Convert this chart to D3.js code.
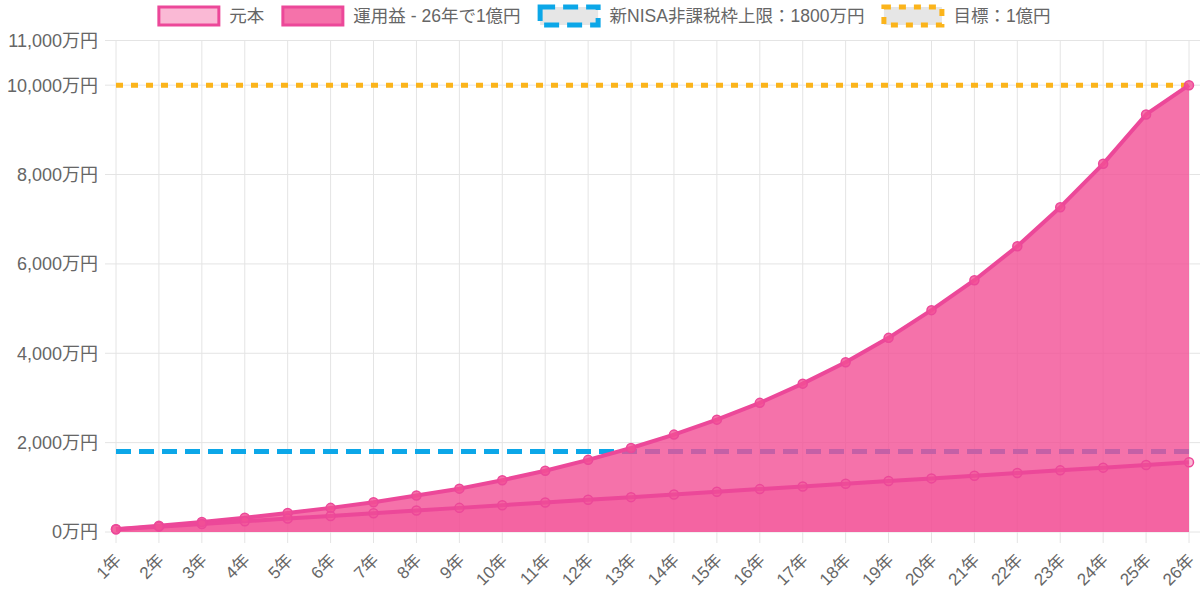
<!DOCTYPE html>
<html><head><meta charset="utf-8">
<script src="https://cdn.jsdelivr.net/npm/d3@7"></script>
<style>
html,body{margin:0;padding:0;background:#fff;}
svg{display:block;font-family:"Liberation Sans","Noto Sans CJK JP",sans-serif;}
</style></head>
<body>
<svg id="c" width="1200" height="601"></svg>
<script>
const years = ["1年","2年","3年","4年","5年","6年","7年","8年","9年","10年","11年","12年","13年","14年","15年","16年","17年","18年","19年","20年","21年","22年","23年","24年","25年","26年"];
const principal = [60,120,180,240,300,360,420,480,540,600,660,720,780,840,900,960,1020,1080,1140,1200,1260,1320,1380,1440,1500,1560];
const total = [60,140,225,320,425,540,665,815,970,1160,1370,1615,1880,2180,2515,2890,3320,3800,4345,4965,5635,6395,7270,8240,9345,10000];
const nisaLimit = 1800;
const goal = 10000;
const yTicks = [0,2000,4000,6000,8000,10000,11000];
const legendLabels = ["元本","運用益 - 26年で1億円","新NISA非課税枠上限：1800万円","目標：1億円"];

const svg = d3.select("#c");
const x = d3.scalePoint().domain(years).range([116,1189]);
const y = d3.scaleLinear().domain([0,11000]).range([532,40.5]);

const pinkLine = "#ec4899";
const pinkFillTop = "rgba(242,79,149,0.8)";
const pinkFillLow = "rgba(242,79,149,0.4)";
const blue = "#0ca7e8";
const orange = "#fbb41b";
const grid = "#e4e4e4";
const fmt = d3.format(",");

// grid
const g = svg.append("g");
g.selectAll("line.h").data(yTicks).join("line")
  .attr("x1",105).attr("x2",1200).attr("y1",d=>y(d)).attr("y2",d=>y(d))
  .attr("stroke",grid).attr("stroke-width",1);
g.selectAll("line.v").data(years).join("line")
  .attr("x1",d=>x(d)).attr("x2",d=>x(d)).attr("y1",y(11000)).attr("y2",543)
  .attr("stroke",grid).attr("stroke-width",1);

// y labels
svg.append("g").selectAll("text").data(yTicks).join("text")
  .attr("x",98).attr("y",d=>y(d)).attr("dy","0.36em")
  .attr("text-anchor","end").attr("font-size",18).attr("fill","#666")
  .text(d=>fmt(d)+"万円");

// x labels
svg.append("g").selectAll("text").data(years).join("text")
  .attr("transform",d=>`translate(${x(d)+2},${557}) rotate(-45)`)
  .attr("text-anchor","end").attr("font-size",17).attr("fill","#666")
  .attr("dy","0.35em")
  .text(d=>d);

// reference lines
svg.append("line").attr("x1",x(years[0])).attr("x2",x(years[years.length-1]))
  .attr("y1",y(nisaLimit)).attr("y2",y(nisaLimit))
  .attr("stroke",blue).attr("stroke-width",5).attr("stroke-dasharray","15 8");
svg.append("line").attr("x1",x(years[0])).attr("x2",x(years[years.length-1]))
  .attr("y1",y(goal)).attr("y2",y(goal))
  .attr("stroke",orange).attr("stroke-width",5).attr("stroke-dasharray","7 8");

// areas
const area = d3.area().x((d,i)=>x(years[i])).y0(y(0)).y1(d=>y(d));
const line = d3.line().x((d,i)=>x(years[i])).y(d=>y(d));
svg.append("path").attr("d",area(total)).attr("fill",pinkFillTop);
svg.append("path").attr("d",area(principal)).attr("fill",pinkFillLow);
svg.append("path").attr("d",line(total)).attr("fill","none").attr("stroke",pinkLine).attr("stroke-width",4).attr("stroke-linejoin","round");
svg.append("path").attr("d",line(principal)).attr("fill","none").attr("stroke",pinkLine).attr("stroke-width",4).attr("stroke-linejoin","round");

// points
[[total,pinkFillTop],[principal,pinkFillLow]].forEach(([data,fill])=>{
  svg.append("g").selectAll("circle").data(data).join("circle")
    .attr("cx",(d,i)=>x(years[i])).attr("cy",d=>y(d)).attr("r",4.5)
    .attr("fill",fill).attr("stroke",pinkLine).attr("stroke-width",1.5);
});

// legend
const leg = svg.append("g").attr("font-size",17.5).attr("fill","#666");
const boxW = 63, boxH = 18, gapBT = 9, gapItem = 17;
const items = legendLabels.map((t,i)=>({t,i}));
let widths = [];
const tmp = leg.append("g");
items.forEach(it=>{
  const tt = tmp.append("text").text(it.t);
  widths.push(tt.node().getComputedTextLength());
});
tmp.remove();
const totalW = d3.sum(widths) + items.length*(boxW+gapBT) + (items.length-1)*gapItem;
let cx = 604 - totalW/2;
const ly = 16;
items.forEach((it,i)=>{
  const bx = cx;
  if(i===0){
    leg.append("rect").attr("x",bx+1.5).attr("y",ly-boxH/2).attr("width",boxW-3).attr("height",boxH)
      .attr("fill","rgba(242,79,149,0.4)").attr("stroke",pinkLine).attr("stroke-width",3);
  } else if(i===1){
    leg.append("rect").attr("x",bx+1.5).attr("y",ly-boxH/2).attr("width",boxW-3).attr("height",boxH)
      .attr("fill","rgba(242,79,149,0.8)").attr("stroke",pinkLine).attr("stroke-width",3);
  } else if(i===2){
    leg.append("rect").attr("x",bx+2.5).attr("y",ly-boxH/2).attr("width",boxW-5).attr("height",boxH)
      .attr("fill","#e6e6e6").attr("stroke",blue).attr("stroke-width",5).attr("stroke-dasharray","15 8");
  } else {
    leg.append("rect").attr("x",bx+2.5).attr("y",ly-boxH/2).attr("width",boxW-5).attr("height",boxH)
      .attr("fill","#e6e6e6").attr("stroke",orange).attr("stroke-width",5).attr("stroke-dasharray","7 8");
  }
  leg.append("text").attr("x",bx+boxW+gapBT).attr("y",ly).attr("dy","0.36em").text(it.t);
  cx += boxW + gapBT + widths[i] + gapItem;
});
</script>
</body></html>
